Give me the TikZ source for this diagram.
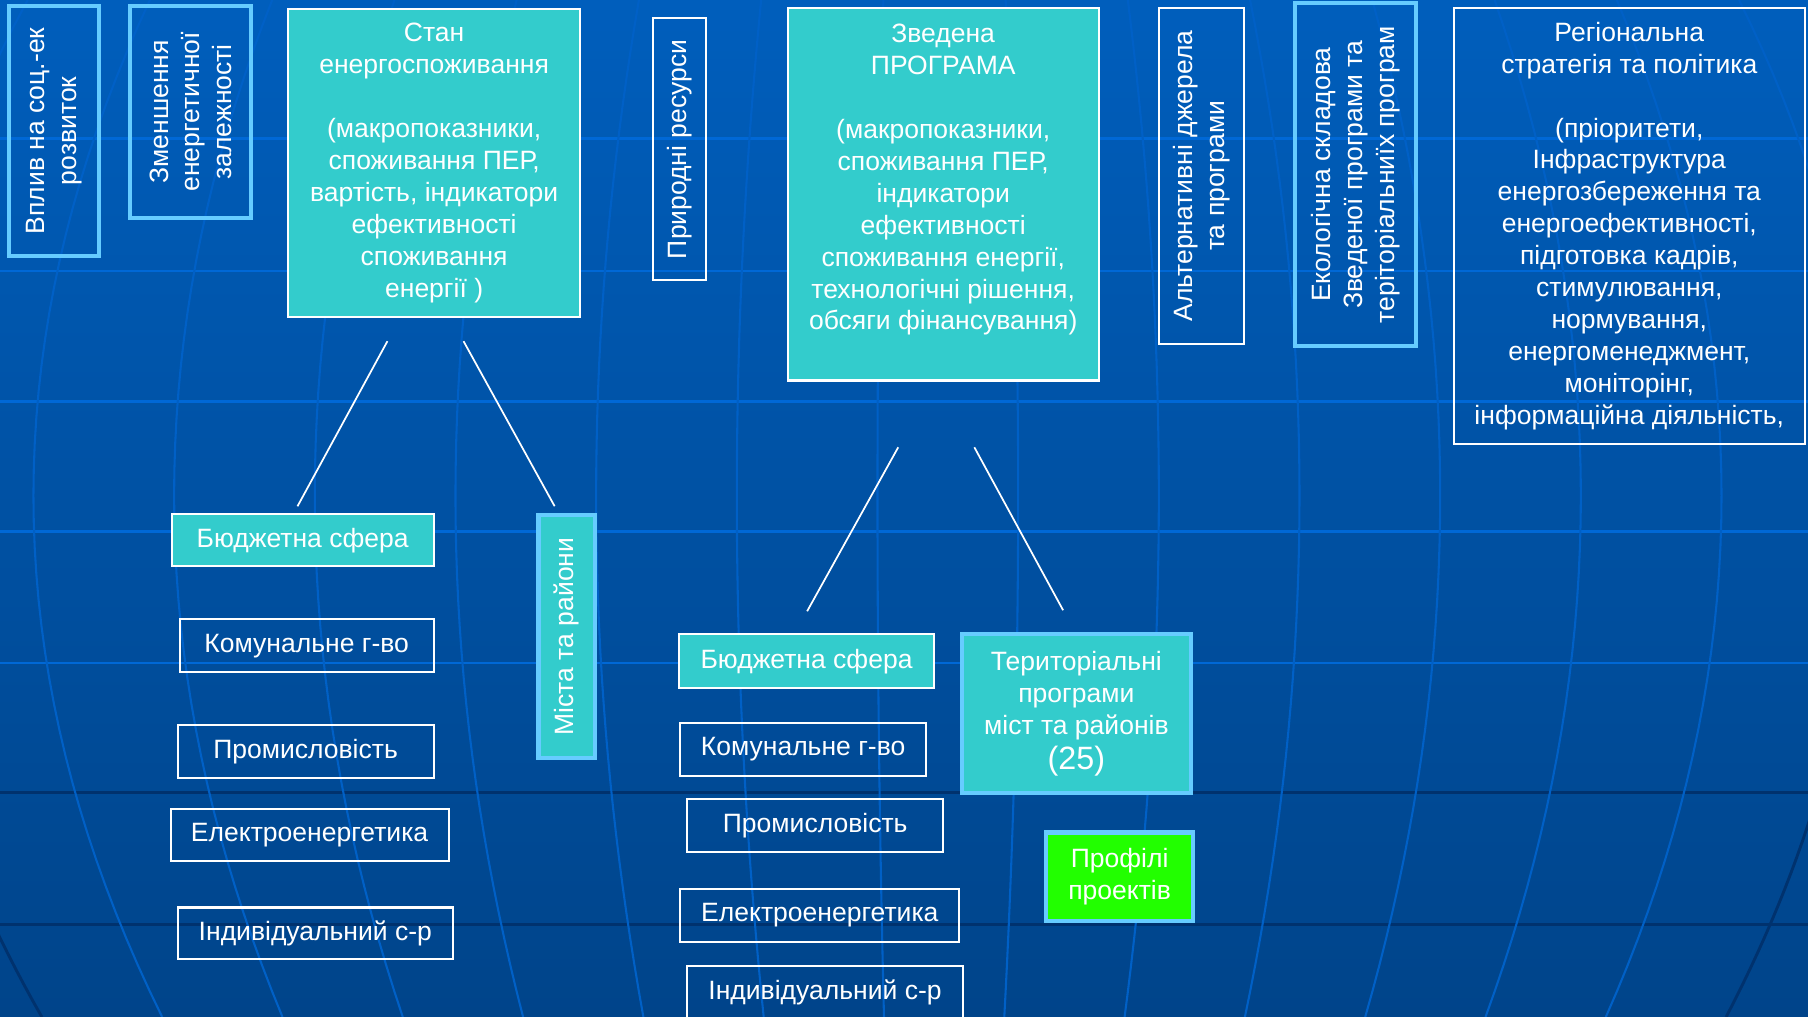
\documentclass[tikz,border=0pt]{standalone}
\usepackage{fontspec}
\setmainfont{Liberation Sans}
\usepackage{tikz}
\usetikzlibrary{calc}

\definecolor{bgtop}{RGB}{0,94,188}
\definecolor{bgbottom}{RGB}{0,68,138}
\definecolor{gridlight}{RGB}{0,104,214}
\definecolor{gridmer}{RGB}{0,96,198}
\definecolor{griddark}{RGB}{0,50,110}
\definecolor{tealfill}{RGB}{51,204,204}
\definecolor{skyedge}{RGB}{102,204,255}
\definecolor{limefill}{RGB}{34,255,0}

\tikzset{
    plainbox/.style={draw=white, line width=1.8pt, inner sep=0pt, align=center, text=white, font=\fontsize{23}{27.7}\selectfont},
    tealbox/.style={plainbox, fill=tealfill},
    skybox/.style={plainbox, draw=skyedge, line width=3.5pt},
    skyteal/.style={skybox, fill=tealfill},
    link/.style={white, line width=1.5pt},
    gridline/.style={gridlight, line width=2.5pt},
    darkline/.style={griddark, line width=2.5pt},
    meridian/.style={gridmer, line width=1.8pt}
}

\begin{document}
\begin{tikzpicture}[x=1pt, y=-1pt]
        \useasboundingbox (0,0) rectangle (1568,882);
        \shade [top color=bgtop, bottom color=bgbottom] (0,0) rectangle (1568,882);
        \begin{scope}
            \clip (0,0) rectangle (1568,882);
            \foreach \gy in {120,235,348,461,575}
                \draw [gridline] (0,\gy) -- (1568,\gy);
            \foreach \gy in {687,802}
                \draw [darkline] (0,\gy) -- (1568,\gy);
            \foreach \mx in {29,151,...,1493}
                \draw [meridian] plot [domain=0:882, samples=40] ({\mx-(\mx-800)*0.15*((\x-430)/460)^2}, \x);
            \foreach \mx in {-93,1615} {
                \draw [meridian] plot [domain=0:620, samples=30] ({\mx-(\mx-800)*0.15*((\x-430)/460)^2}, \x);
                \draw [darkline] plot [domain=620:882, samples=20] ({\mx-(\mx-800)*0.15*((\x-430)/460)^2}, \x);
            }
        \end{scope}

        \node [skybox, rotate=90, minimum width=217pt, minimum height=78pt] (vplyv) at (47,113.5) {Вплив на соц.-ек\\розвиток};
        \node [skybox, rotate=90, minimum width=184pt, minimum height=105pt] (zmensh) at (165.5,97) {Зменшення\\енергетичної\\залежності};
        \node [tealbox, minimum width=253pt, minimum height=267pt] (stan) at (376.5,141.5) {Стан\\енергоспоживання\\[27.7pt](макропоказники,\\споживання ПЕР,\\вартість, індикатори\\ефективності\\споживання\\енергії )};
        \node [plainbox, rotate=90, minimum width=227pt, minimum height=46pt] (resursy) at (589,129.5) {Природні ресурси};
        \node [tealbox, minimum width=270pt, minimum height=323pt, text depth=30pt] (zvedena) at (818,168.5) {Зведена\\ПРОГРАМА\\[27.7pt](макропоказники,\\споживання ПЕР,\\індикатори\\ефективності\\споживання енергії,\\технологічні рішення,\\обсяги фінансування)};
        \node [plainbox, rotate=90, minimum width=291pt, minimum height=74pt] (altern) at (1042,152.5) {Альтернативні джерела\\та програми};
        \node [skybox, rotate=90, minimum width=297pt, minimum height=105pt] (ekol) at (1175.5,151.5) {Екологічна складова\\Зведеної програми та\\теріторіальниїх програм};
        \node [plainbox, minimum width=304pt, minimum height=378pt] (region) at (1413,196) {Регіональна\\стратегія та політика\\[27.7pt](пріоритети,\\Інфраструктура\\енергозбереження та\\енергоефективності,\\підготовка кадрів,\\стимулювання,\\нормування,\\енергоменеджмент,\\моніторінг,\\інформаційна діяльність,};

        \node [tealbox, minimum width=227pt, minimum height=45pt] (budz1) at (262.5,468.5) {Бюджетна сфера};
        \node [skyteal, rotate=90, minimum width=210pt, minimum height=49pt] (mista) at (491.5,552) {Міста та райони};
        \node [plainbox, minimum width=220pt, minimum height=46pt] (komun1) at (266,560) {Комунальне г-во};
        \node [plainbox, minimum width=222pt, minimum height=46pt] (prom1) at (265,652) {Промисловість};
        \node [plainbox, minimum width=241pt, minimum height=45pt] (elektro1) at (268.5,724.5) {Електроенергетика};
        \node [plainbox, minimum width=239pt, minimum height=45pt] (indyv1) at (273.5,809.5) {Індивідуальний с-р};

        \node [tealbox, minimum width=221pt, minimum height=47pt] (budz2) at (699.5,573.5) {Бюджетна сфера};
        \node [plainbox, minimum width=213pt, minimum height=46pt] (komun2) at (696.5,650) {Комунальне г-во};
        \node [plainbox, minimum width=222pt, minimum height=46pt] (prom2) at (707,716) {Промисловість};
        \node [plainbox, minimum width=242pt, minimum height=46pt] (elektro2) at (711,794) {Електроенергетика};
        \node [plainbox, minimum width=239pt, minimum height=46pt] (indyv2) at (715.5,861) {Індивідуальний с-р};
        \node [skyteal, minimum width=199pt, minimum height=138pt] (terit) at (933.5,619) {Територіальні\\програми\\міст та районів\\[2pt]{\fontsize{28}{30}\selectfont (25)}};
        \node [skybox, fill=limefill, minimum width=128pt, minimum height=77pt] (profili) at (971,760.5) {Профілі\\проектів};

        \coordinate (stanL) at ($(stan.south)+(-40.5,20)$);
        \coordinate (stanR) at ($(stan.south)+(25.5,20)$);
        \coordinate (budz1T) at ($(budz1.north)+(-4.5,-6)$);
        \coordinate (mistaT) at ($(mista.center)+(-10.5,-113)$);
        \coordinate (zvedL) at ($(zvedena.south)+(-39,57)$);
        \coordinate (zvedR) at ($(zvedena.south)+(27,57)$);
        \coordinate (budz2T) at ($(budz2.north)+(0.5,-19)$);
        \coordinate (teritT) at ($(terit.north)+(-11.5,-19)$);
        \draw [link] (stanL) -- (budz1T);
        \draw [link] (stanR) -- (mistaT);
        \draw [link] (zvedL) -- (budz2T);
        \draw [link] (zvedR) -- (teritT);
\end{tikzpicture}
\end{document}
